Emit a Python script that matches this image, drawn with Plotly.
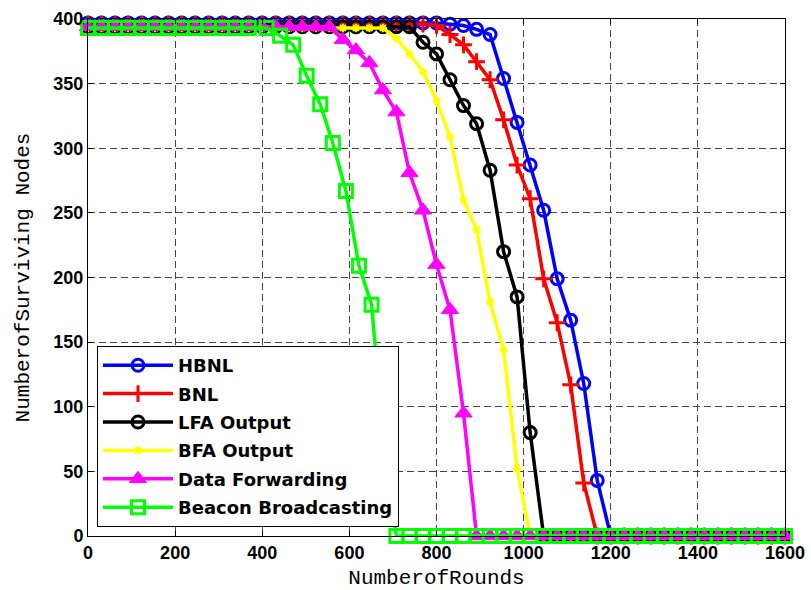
import plotly.graph_objects as go

rounds = [0, 31, 62, 92, 123, 154, 185, 215, 246, 277, 308, 338, 369, 400, 431, 462,
          492, 523, 554, 585, 615, 646, 677, 708, 738, 769, 800, 831, 862, 892, 923,
          954, 985, 1015, 1046, 1077, 1108, 1138, 1169, 1200, 1231, 1262, 1292, 1323,
          1354, 1385, 1415, 1446, 1477, 1508, 1538, 1569, 1600]

hbnl = [397] * 27 + [396, 395, 392, 388, 354, 320, 287, 252, 199, 167, 118, 43, 0] + [0] * 13
bnl = [396] * 26 + [395, 388, 380, 367, 353, 322, 287, 261, 199, 165, 117, 41, 0] + [0] * 14
lfa = [394] * 25 + [382, 373, 353, 333, 319, 283, 220, 185, 80, 0] + [0] * 18
bfa = [393] * 23 + [385, 373, 359, 337, 309, 260, 237, 181, 144, 52, 0] + [0] * 19
data_fwd = [394] * 19 + [384, 376, 366, 345, 328, 281, 252, 210, 175, 95, 0] + [0] * 23

beacon_rounds = [0, 31, 62, 92, 123, 154, 185, 215, 246, 277, 308, 338, 369, 410, 441,
                 471, 502, 533, 562, 592, 622, 651, 681, 708, 738, 769, 800, 831, 862,
                 892, 923, 954, 985, 1015, 1046, 1077, 1108, 1138, 1169, 1200, 1231,
                 1262, 1292, 1323, 1354, 1385, 1415, 1446, 1477, 1508, 1538, 1569, 1600]
beacon = [393] * 14 + [387, 380, 356, 334, 304, 267, 209, 179, 62, 0] + [0] * 29

series = [
    ("HBNL", rounds, hbnl, "#0000ff", "circle-open", 12, 3),
    ("BNL", rounds, bnl, "#ff0000", "cross-thin-open", 12, 3),
    ("LFA Output", rounds, lfa, "#000000", "circle-open", 12, 3),
    ("BFA Output", rounds, bfa, "#ffff00", "asterisk-open", 7, 2),
    ("Data Forwarding", rounds, data_fwd, "#ff00ff", "triangle-up", 15, 1),
    ("Beacon Broadcasting", beacon_rounds, beacon, "#00ff00", "square-open", 13, 3),
]

fig = go.Figure()
for name, xs, ys, color, symbol, size, lw in series:
    fig.add_trace(go.Scatter(
        x=xs, y=ys, name=name, mode="lines+markers", legendgroup=name,
        line=dict(color=color, width=3.5),
        marker=dict(symbol=symbol, size=size, color=color,
                    line=dict(color=color, width=lw)),
        cliponaxis=False,
    ))

axis_common = dict(
    showline=True, linecolor="black", linewidth=1, mirror="ticks",
    ticks="inside", ticklen=5, tickcolor="black",
    showgrid=True, gridcolor="#444444", gridwidth=1, griddash="7px,4px",
    zeroline=False, automargin=False,
    tickfont=dict(family="Liberation Sans", size=18, color="black", weight="bold"),
)

fig.update_layout(
    width=811, height=590,
    margin=dict(l=88, r=26, t=19, b=54),
    paper_bgcolor="white", plot_bgcolor="white",
    xaxis=dict(range=[0, 1600], dtick=200, tick0=0,
               title=dict(text="NumberofRounds", standoff=12,
                          font=dict(family="Liberation Mono", size=21, color="black")),
               **axis_common),
    yaxis=dict(range=[0, 400], dtick=50, tick0=0,
               title=dict(text="NumberofSurviving Nodes", standoff=18,
                          font=dict(family="Liberation Mono", size=21, color="black")),
               **axis_common),
    legend=dict(x=0.0129, y=0.0174, xanchor="left", yanchor="bottom",
                bgcolor="white", bordercolor="black", borderwidth=1,
                font=dict(family="DejaVu Sans", size=18, color="black", weight="bold"),
                itemwidth=70, traceorder="grouped", tracegroupgap=2),
    showlegend=True,
)

fig.write_html("out.html")
